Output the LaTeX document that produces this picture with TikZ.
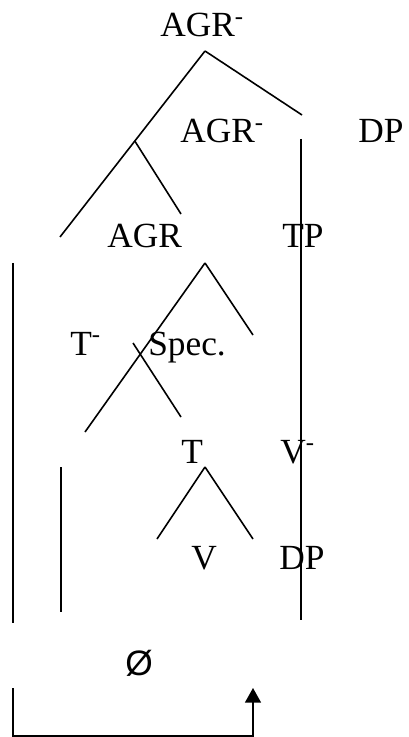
\documentclass[tikz,border=0pt]{standalone}
\usepackage{fontspec}
\setmainfont{Liberation Serif}
\newfontfamily\emptysetfont{Liberation Sans}
\usepackage{tikz}
\usetikzlibrary{arrows.meta,calc}
\tikzset{
    tree-label/.style = {anchor=base west, inner sep=0pt, font=\fontsize{26.5}{30}\selectfont},
    tree-line/.style = {draw=black, line width=1.2pt},
}

\begin{document}
\begin{tikzpicture}[x=0.75pt, y=-0.75pt]
\useasboundingbox (0,0) rectangle (408,737);
% labels
\node[tree-label] (agr-bar-top) at (160,37) {AGR\textsuperscript{-}};
\node[tree-label] (agr-bar) at (180,143) {AGR\textsuperscript{-}};
\node[tree-label] (dp-top) at (358,143) {DP};
\node[tree-label] (agr) at (107,248) {AGR};
\node[tree-label] (tp) at (282,248) {TP};
\node[tree-label] (t-bar) at (70,355) {T\textsuperscript{-}};
\node[tree-label] (spec) at (148,355) {Spec.};
\node[tree-label] (t) at (181,463) {T};
\node[tree-label] (v-bar) at (280,463) {V\textsuperscript{-}};
\node[tree-label] (v) at (191,569) {V};
\node[tree-label] (dp-low) at (279,569) {DP};
\node[tree-label, font=\emptysetfont\fontsize{26.5}{30}\selectfont] (empty) at (125,675) {Ø};
% branch ends
\coordinate (top-apex) at (205,51);
\coordinate (top-left) at (60,237);
\coordinate (top-right) at (302,115);
\coordinate (mid-fork) at ($(top-apex)!0.484!(top-left)$);
\coordinate (mid-fork-end) at (181,214);
\coordinate (agr-apex) at (205,263);
\coordinate (agr-left) at (85,432);
\coordinate (agr-right) at (253,335);
\coordinate (cross-start) at (133,343);
\coordinate (cross-end) at (181,417);
\coordinate (t-apex) at (205,467);
\coordinate (t-left) at (157,539);
\coordinate (t-right) at (253,539);
\coordinate (rail-right-top) at (301,139);
\coordinate (rail-right-bot) at (301,620);
\coordinate (rail-left-top) at (13,263);
\coordinate (rail-left-bot) at (13,623);
\coordinate (rail-in-top) at (61,467);
\coordinate (rail-in-bot) at (61,612);
\coordinate (loop-start) at (13,688);
\coordinate (loop-end) at (253,688);
% tree
\draw[tree-line] (top-apex) -- (top-left);
\draw[tree-line] (top-apex) -- (top-right);
\draw[tree-line] (mid-fork) -- (mid-fork-end);
\draw[tree-line] (agr-apex) -- (agr-left);
\draw[tree-line] (agr-apex) -- (agr-right);
\draw[tree-line] (cross-start) -- (cross-end);
\draw[tree-line] (t-apex) -- (t-left);
\draw[tree-line] (t-apex) -- (t-right);
\draw[tree-line] (rail-right-top) -- (rail-right-bot);
\draw[tree-line] (rail-left-top) -- (rail-left-bot);
\draw[tree-line] (rail-in-top) -- (rail-in-bot);
\draw[tree-line, -{Triangle[length=11pt, width=12pt]}] (loop-start) |- ([yshift=-36pt]loop-end) -- (loop-end);
\end{tikzpicture}
\end{document}
